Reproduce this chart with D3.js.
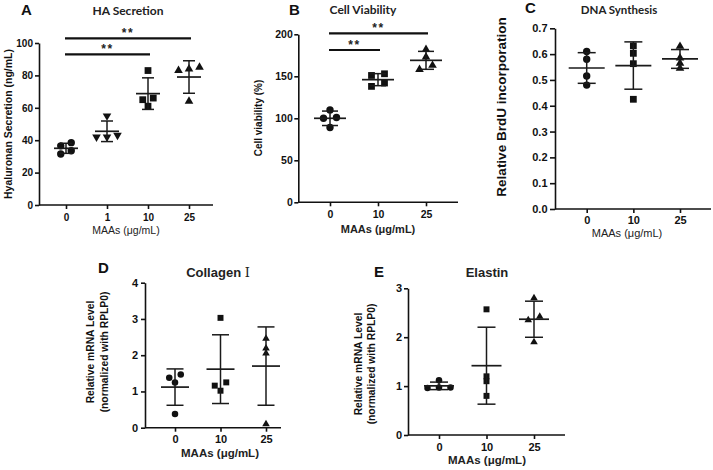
<!DOCTYPE html>
<html><head><meta charset="utf-8">
<script src="https://cdn.jsdelivr.net/npm/d3@7"></script>
<style>body{margin:0;background:#fff}svg{display:block}</style>
</head><body>
<svg id="c" width="713" height="470"></svg>
<script>
// ---------- data ----------
const dosesA = ["0","1","10","25"];
const dosesB = ["0","10","25"];
const haSecretion = [[31.5,33.5,36.5,38.5],[55,42,43,42],[83,66,65,61],[85,83,84,64]];
const cellViability = [[110,101,100,89],[151,153,138,142],[182,173,163,158]];
const brduIncorporation = [[0.61,0.58,0.515,0.48],[0.632,0.603,0.563,0.425],[0.63,0.585,0.565,0.545]];
const collagenI = [[1.38,1.47,1.25,0.38],[3.03,1.25,1.02,1.16],[2.46,2.19,2.05,0.1]];
const elastin = [[1.12,0.97,0.96,0.97],[2.57,1.2,1.1,0.8],[2.8,2.42,2.35,1.9]];
const ticksA = [0,20,40,60,80,100];
const ticksB = [0,50,100,150,200];
const ticksC = [0,0.1,0.2,0.3,0.4,0.5,0.6,0.7];
const ticksD = [0,1,2,3,4];
const ticksE = [0,1,2,3];
const shapesA = ["circle","triangleDown","square","triangle"];
const shapesB = ["circle","square","triangle"];
const sigA = [["0","25","**"],["0","10","**"]];
const sigB = [["0","25","**"],["0","10","**"]];
const xLabel = "MAAs (μg/mL)";

// ---------- drawing ----------
const svg = d3.select("#c");
const ARIAL = "'Liberation Sans', Arial, sans-serif";
const CAL = "Lato, 'Open Sans', sans-serif";
const INK = "#111";

const panels = [
  {letter:"A", letterPos:[21,15], title:["HA Secretion"], titlePos:[128,15], titleFont:[CAL,12,"bold"],
   cats:dosesA, data:haSecretion, shapes:shapesA, ticks:ticksA, yDomain:[0,100], fmt:d3.format("d"),
   axisX:39, axisRight:213, y0:205, y1:43, catRange:[66,189], yTick:4, yPad:2, xTick:4, xPad:4.5, tickFont:10,
   xLab:[126,234,10.5,"normal"], yLab:{x:12,y:124,size:10.5,lines:["Hyaluronan  Secretion (ng/mL)"]},
   sig:sigA, sigY:[38.3,54.3], meanW:12, capW:6, spacing:10.5, mk:1},
  {letter:"B", letterPos:[289,15], title:["Cell Viability"], titlePos:[363,14], titleFont:[CAL,12,"bold"],
   cats:dosesB, data:cellViability, shapes:shapesB, ticks:ticksB, yDomain:[0,200], fmt:d3.format("d"),
   axisX:298.3, axisRight:458, y0:202.3, y1:34.3, catRange:[330,426], yTick:4, yPad:1.5, xTick:4, xPad:4, tickFont:10.5,
   xLab:[378,233,11,"bold"], yLab:{x:262,y:118,size:10,lines:["Cell viability (%)"]},
   sig:sigB, sigY:[33.3,50], meanW:16, capW:8, spacing:13, mk:1},
  {letter:"C", letterPos:[525,13], title:["DNA Synthesis"], titlePos:[619,14], titleFont:[CAL,11.5,"bold"],
   cats:dosesB, data:brduIncorporation, shapes:shapesB, ticks:ticksC, yDomain:[0,0.7], fmt:d3.format(".1f"),
   axisX:555, axisRight:711, y0:209, y1:28.3, catRange:[586.7,680], yTick:5, yPad:2.5, xTick:4, xPad:3, tickFont:11,
   xLab:[627,237,11,"normal"], yLab:{x:506,y:107,size:13.5,lines:["Relative BrdU incorporation"]},
   sig:[], sigY:[], meanW:18, capW:9, spacing:10, mk:1},
  {letter:"D", letterPos:[98,273], title:["Collagen ","Ⅰ"], titlePos:[218,277], titleFont:[ARIAL,13,"bold"],
   cats:dosesB, data:collagenI, shapes:shapesB, ticks:ticksD, yDomain:[0,4], fmt:d3.format("d"),
   axisX:145, axisRight:281, y0:427.7, y1:282.7, catRange:[175,266], yTick:4, yPad:3, xTick:4, xPad:3.5, tickFont:11,
   xLab:[220,457,11.5,"bold"], yLab:{x:107.5,y:352,size:10.3,gap:13.5,lines:["Relative mRNA Level","(normalized with RPLP0)"]},
   sig:[], sigY:[], meanW:14, capW:8.5, spacing:11.5, mk:0.88},
  {letter:"E", letterPos:[374,277], title:["Elastin"], titlePos:[487,277], titleFont:[ARIAL,13,"bold"],
   cats:dosesB, data:elastin, shapes:shapesB, ticks:ticksE, yDomain:[0,3], fmt:d3.format("d"),
   axisX:408, axisRight:565, y0:435, y1:288.3, catRange:[439,534], yTick:4, yPad:2, xTick:4, xPad:3.9, tickFont:11,
   xLab:[487,464,11.5,"bold"], yLab:{x:375,y:364,size:10.3,gap:13,lines:["Relative mRNA Level","(normalized with RPLP0)"]},
   sig:[], sigY:[], meanW:15, capW:9, spacing:11.5, mk:0.88}
];

function symbolPath(shape, scale){
  if (shape==="circle") return d3.symbol().type(d3.symbolCircle).size(43*scale*scale)();
  if (shape==="square") return d3.symbol().type(d3.symbolSquare).size(46*scale*scale)();
  return d3.symbol().type(d3.symbolTriangle).size(32*scale*scale)();
}

function layoutGroup(vals, y, binH, spacing){
  const pts = vals.map(v=>({v, py:y(v)})).sort((a,b)=>a.py-b.py);
  const rows=[]; let cur=null;
  for (const p of pts){
    if (!cur || p.py-cur.start>=binH){ cur={start:p.py, pts:[]}; rows.push(cur); }
    cur.pts.push(p);
  }
  rows.forEach(r=>{
    r.pts.sort((a,b)=>a.v-b.v);
    const n=r.pts.length;
    r.pts.forEach((p,i)=>p.dx=(i-(n-1)/2)*spacing);
  });
  return pts;
}

function drawPanel(p){
  const g = svg.append("g");
  const x = d3.scalePoint().domain(p.cats).range(p.catRange);
  const y = d3.scaleLinear().domain(p.yDomain).range([p.y0, p.y1]);

  const ya = g.append("g").attr("transform",`translate(${p.axisX},0)`)
    .call(d3.axisLeft(y).tickValues(p.ticks).tickSize(p.yTick).tickSizeOuter(0).tickPadding(p.yPad).tickFormat(p.fmt));
  const xa = g.append("g").attr("transform",`translate(0,${p.y0})`)
    .call(d3.axisBottom(x).tickSize(p.xTick).tickSizeOuter(0).tickPadding(p.xPad));
  xa.select(".domain").attr("d",`M${p.axisX},0H${p.axisRight}`);
  [ya,xa].forEach(a=>{
    a.attr("font-family",ARIAL).attr("font-size",p.tickFont).attr("font-weight","bold");
    a.selectAll(".domain,.tick line").attr("stroke",INK).attr("stroke-width",1.6);
    a.selectAll("text").attr("fill",INK);
  });

  // panel letter & title
  g.append("text").attr("x",p.letterPos[0]).attr("y",p.letterPos[1]).text(p.letter)
    .attr("font-family",ARIAL).attr("font-size",15).attr("font-weight","900").attr("fill",INK);
  const tt = g.append("text").attr("x",p.titlePos[0]).attr("y",p.titlePos[1]).attr("text-anchor","middle")
    .attr("font-family",p.titleFont[0]).attr("font-size",p.titleFont[1]).attr("font-weight",p.titleFont[2]).attr("fill","#222");
  tt.append("tspan").text(p.title[0]);
  if (p.title[1]) tt.append("tspan").text(p.title[1]).attr("font-family","'DejaVu Serif', 'DejaVu Sans', serif").attr("font-weight","normal");

  // axis labels
  g.append("text").attr("x",p.xLab[0]).attr("y",p.xLab[1]).attr("text-anchor","middle").text(xLabel)
    .attr("font-family",ARIAL).attr("font-size",p.xLab[2]).attr("font-weight",p.xLab[3]).attr("fill","#222");
  const nl = p.yLab.lines.length;
  p.yLab.lines.forEach((ln,i)=>{
    const bx = p.yLab.x - (nl-1-i)*(p.yLab.gap||0);
    g.append("text").attr("transform",`translate(${bx},${p.yLab.y}) rotate(-90)`).attr("text-anchor","middle").text(ln)
      .attr("font-family",ARIAL).attr("font-size",p.yLab.size).attr("font-weight","bold").attr("fill","#111");
  });

  // groups
  p.cats.forEach((c,gi)=>{
    const vals = p.data[gi];
    const cx = x(c);
    const m = d3.mean(vals), sd = d3.deviation(vals);
    const pts = layoutGroup(vals, y, 4.5, p.spacing);
    const shape = p.shapes[gi];
    pts.forEach(pt=>{
      g.append("path").attr("d",symbolPath(shape,p.mk))
        .attr("transform",`translate(${cx+pt.dx},${pt.py})${shape==="triangleDown"?" rotate(180)":""}`)
        .attr("fill",INK);
    });
    const eb = g.append("g").attr("stroke","#1a1a1a").attr("stroke-width",1.5).attr("fill","none");
    eb.append("line").attr("x1",cx).attr("x2",cx).attr("y1",y(m+sd)).attr("y2",y(m-sd));
    [m+sd,m-sd].forEach(v=>eb.append("line").attr("x1",cx-p.capW).attr("x2",cx+p.capW).attr("y1",y(v)).attr("y2",y(v)));
    eb.append("line").attr("x1",cx-p.meanW).attr("x2",cx+p.meanW).attr("y1",y(m)).attr("y2",y(m)).attr("stroke-width",1.7);
  });

  // significance bars
  p.sig.forEach((s,i)=>{
    const x1 = x(s[0])-1, x2 = x(s[1])+2, yy = p.sigY[i];
    g.append("line").attr("x1",x1).attr("x2",x2).attr("y1",yy).attr("y2",yy).attr("stroke",INK).attr("stroke-width",2.2);
    g.append("text").attr("x",(x1+x2)/2).attr("y",yy-1.5).attr("text-anchor","middle").text(s[2])
      .attr("font-family",ARIAL).attr("font-size",12).attr("font-weight","bold").attr("letter-spacing",1.5).attr("fill","#222");
  });
}

panels.forEach(drawPanel);
</script>
</body></html>
